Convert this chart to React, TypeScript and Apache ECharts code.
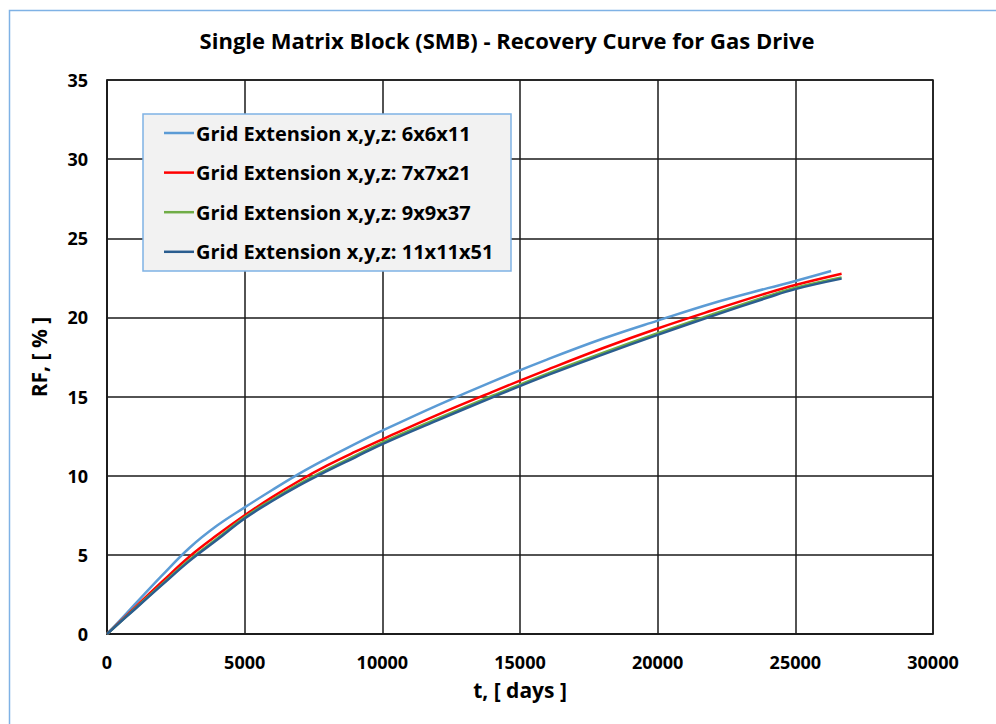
import React, { useEffect, useRef } from "react";
import * as echarts from "echarts";

// Time axis samples (days) for each grid-extension run
const tBlue = [0, 1000, 2000, 3000, 4000, 5000, 6000, 7000, 8000, 9000, 10000, 12000, 14000, 16000, 18000, 20000, 22000, 24000, 25000, 26300];
const tOther = [0, 1000, 2000, 3000, 4000, 5000, 6000, 7000, 8000, 9000, 10000, 12000, 14000, 16000, 18000, 20000, 22000, 24000, 25000, 26680];

// Recovery factor RF [%]
const rf6x6x11 = [0, 1.85, 3.7, 5.45, 6.85, 8.0, 9.1, 10.15, 11.1, 12.0, 12.85, 14.45, 15.95, 17.35, 18.65, 19.8, 20.9, 21.85, 22.3, 22.93];
const rf7x7x21 = [0, 1.65, 3.3, 4.9, 6.25, 7.5, 8.65, 9.7, 10.65, 11.5, 12.3, 13.85, 15.3, 16.7, 18.05, 19.3, 20.45, 21.55, 22.05, 22.76];
const rf9x9x37 = [0, 1.58, 3.15, 4.7, 6.03, 7.38, 8.48, 9.5, 10.4, 11.25, 12.1, 13.6, 15.05, 16.45, 17.75, 19.0, 20.2, 21.35, 21.88, 22.53];
const rf11x11x51 = [0, 1.55, 3.1, 4.62, 5.95, 7.3, 8.4, 9.4, 10.3, 11.15, 12.0, 13.5, 14.95, 16.35, 17.65, 18.9, 20.1, 21.25, 21.79, 22.45];

const seriesNames = [
  "Grid Extension x,y,z: 6x6x11",
  "Grid Extension x,y,z: 7x7x21",
  "Grid Extension x,y,z: 9x9x37",
  "Grid Extension x,y,z: 11x11x51",
];
const seriesColors = ["#5b9bd5", "#ff0000", "#70ad47", "#2a5d8f"];

const FONT = "'Open Sans', sans-serif";

function zip(xs: number[], ys: number[]) {
  return xs.map((x, i) => [x, ys[i]]);
}

export default function App() {
  const ref = useRef<HTMLDivElement>(null);

  useEffect(() => {
    if (!ref.current) return;
    const chart = echarts.init(ref.current, undefined, { renderer: "svg" });
    const ys = [rf6x6x11, rf7x7x21, rf9x9x37, rf11x11x51];
    const option = {
      animation: false,
      backgroundColor: "#ffffff",
      grid: {
        left: 107,
        top: 80,
        right: 63,
        bottom: 90,
        show: true,
        borderColor: "#1a1a1a",
        borderWidth: 1.5,
      },
      graphic: [
        {
          type: "rect",
          shape: { x: 9.5, y: 10.5, width: 1100, height: 900 },
          style: { fill: "none", stroke: "#7fb2e5", lineWidth: 1.5 },
          silent: true,
        },
        {
          type: "text",
          x: 507,
          y: 40,
          style: {
            text: "Single Matrix Block (SMB) - Recovery Curve for Gas Drive",
            font: `bold 22px ${FONT}`,
            fill: "#000",
            align: "center",
            verticalAlign: "middle",
          },
        },
        {
          type: "rect",
          shape: { x: 143, y: 114, width: 368, height: 157 },
          style: { fill: "#f2f2f2", stroke: "#7fb2e5", lineWidth: 1.5 },
          z: 5,
        },
      ],
      legend: {
        orient: "vertical",
        left: 164,
        top: 123,
        padding: 0,
        icon: "rect",
        itemWidth: 30,
        itemHeight: 2.5,
        itemGap: 19.6,
        z: 10,
        textStyle: {
          fontFamily: FONT,
          fontWeight: "bold",
          fontSize: 20,
          lineHeight: 20,
          color: "#000",
          padding: [0, 0, 0, -3],
        },
        data: seriesNames,
      },
      xAxis: {
        type: "value",
        min: 0,
        max: 30000,
        interval: 5000,
        name: "t, [ days ]",
        nameLocation: "middle",
        nameGap: 45,
        nameTextStyle: { fontFamily: FONT, fontWeight: "bold", fontSize: 21, color: "#000" },
        axisLine: { lineStyle: { color: "#1a1a1a", width: 1.5 } },
        axisTick: { show: false },
        axisLabel: {
          margin: 19,
          fontFamily: FONT,
          fontWeight: "bold",
          fontSize: 18,
          color: "#000",
          formatter: (v: number) => String(v),
        },
        splitLine: { lineStyle: { color: "#1a1a1a", width: 1.5 } },
      },
      yAxis: {
        type: "value",
        min: 0,
        max: 35,
        interval: 5,
        name: "RF, [ % ]",
        nameLocation: "middle",
        nameGap: 58,
        nameTextStyle: { fontFamily: FONT, fontWeight: "bold", fontSize: 21, color: "#000" },
        axisLine: { lineStyle: { color: "#1a1a1a", width: 1.5 } },
        axisTick: { show: false },
        axisLabel: {
          margin: 19,
          fontFamily: FONT,
          fontWeight: "bold",
          fontSize: 18,
          color: "#000",
          formatter: (v: number) => String(v),
        },
        splitLine: { lineStyle: { color: "#1a1a1a", width: 1.5 } },
      },
      series: seriesNames.map((name, i) => ({
        name,
        type: "line",
        data: zip(i === 0 ? tBlue : tOther, ys[i]),
        showSymbol: false,
        symbol: "none",
        smooth: 0.4,
        color: seriesColors[i],
        lineStyle: { color: seriesColors[i], width: 2.5 },
        z: 2 + i,
      })),
    };
    chart.setOption(option);
    return () => chart.dispose();
  }, []);

  return (
    <div
      ref={ref}
      style={{ position: "fixed", left: 0, top: 0, width: 996, height: 724 }}
    />
  );
}
